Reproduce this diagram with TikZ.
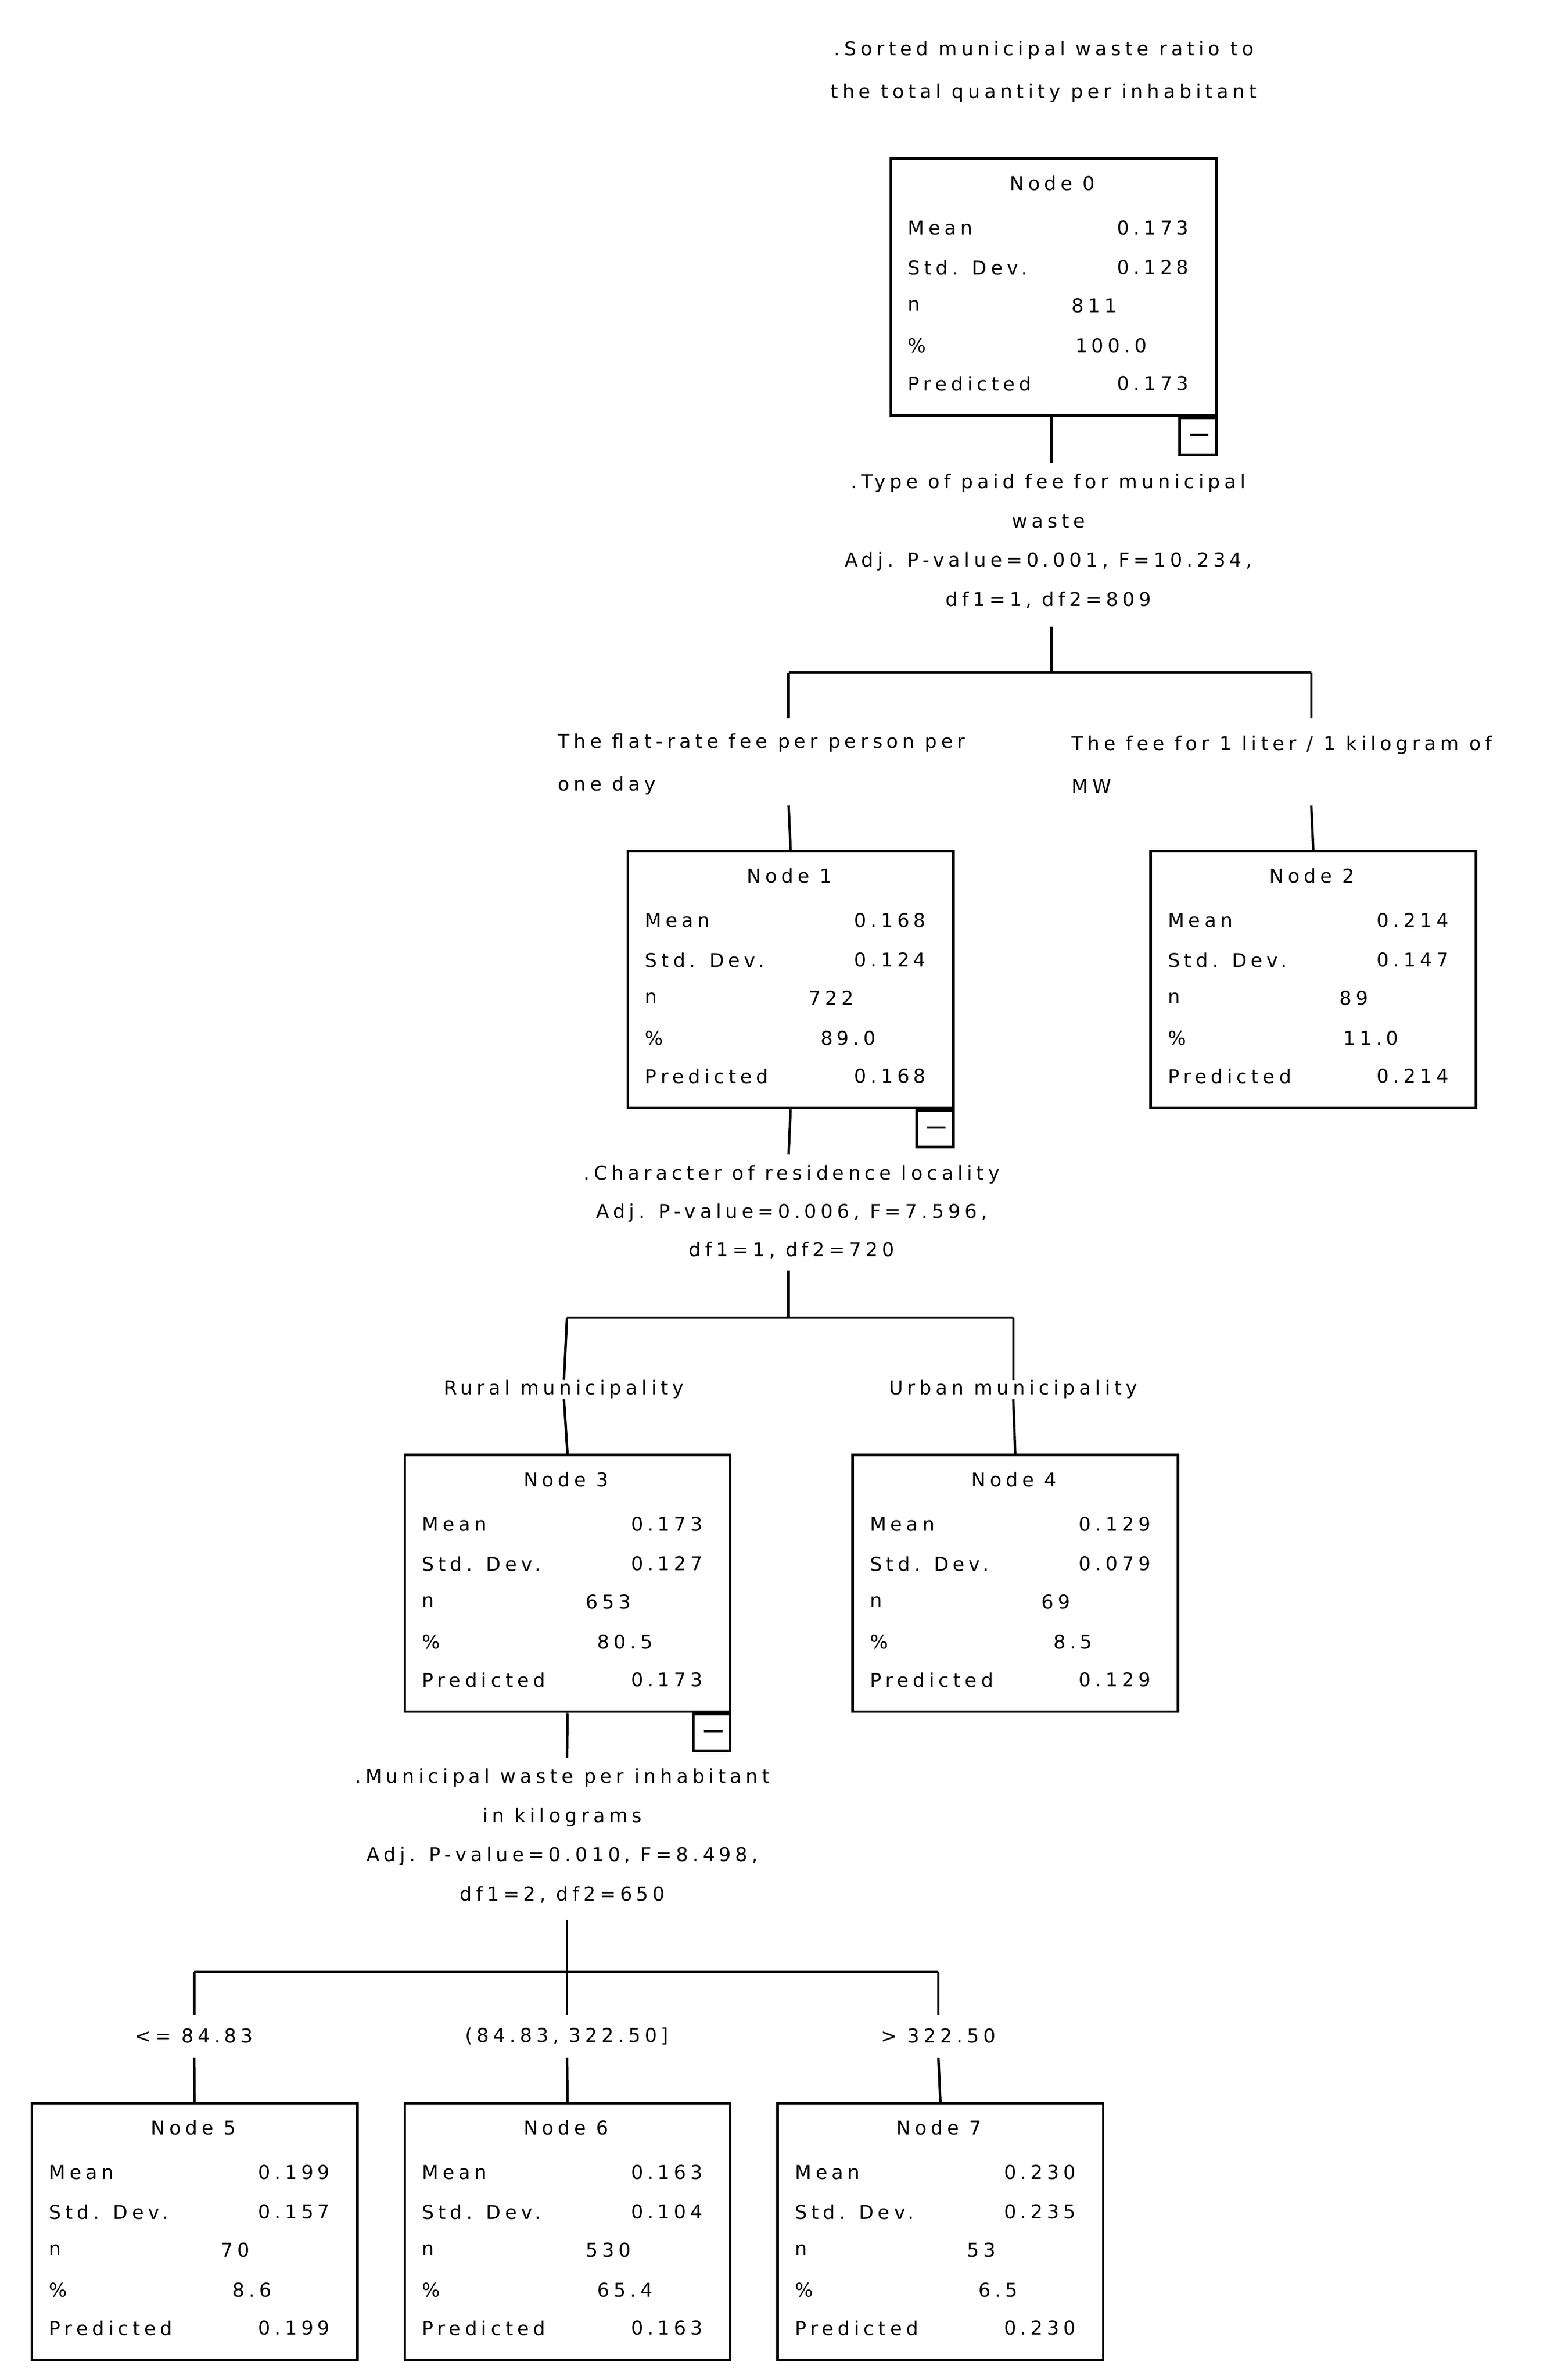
\documentclass[tikz,border=0pt]{standalone}
\usepackage{fontspec}
\setmainfont{DejaVu Sans}[LetterSpace=22]
\begin{document}
\begin{tikzpicture}[x=1pt,y=-1pt,
  box/.style={draw,line width=1.6pt,minimum width=213pt,minimum height=168pt,anchor=north west,inner sep=0},
  mbox/.style={draw,line width=1.6pt,minimum width=24pt,minimum height=24pt,anchor=north east,inner sep=0},
  t/.style={font=\fontsize{12.5}{14}\selectfont,inner sep=0},
  ln/.style={line width=1.6pt}]
\useasboundingbox (0,0) rectangle (1024,1557);
\newcommand\tnode[9]{%
  \node[box] (#1) at (#2,#3) {};
  \node[t,anchor=center] (#1t) at ([xshift=106.5pt,yshift=-17pt]#1.north west) {#4};
  \node[t,anchor=west] (#1a) at ([xshift=12pt,yshift=-46pt]#1.north west) {Mean};
  \node[t,anchor=east] (#1b) at ([xshift=196pt,yshift=-46pt]#1.north west) {#5};
  \node[t,anchor=west] (#1c) at ([xshift=12pt,yshift=-72pt]#1.north west) {Std. Dev.};
  \node[t,anchor=east] (#1d) at ([xshift=196pt,yshift=-72pt]#1.north west) {#6};
  \node[t,anchor=west] (#1e) at ([xshift=12pt,yshift=-97pt]#1.north west) {n};
  \node[t,anchor=center] (#1f) at ([xshift=134pt,yshift=-97pt]#1.north west) {#7};
  \node[t,anchor=west] (#1g) at ([xshift=12pt,yshift=-123pt]#1.north west) {\%};
  \node[t,anchor=center] (#1h) at ([xshift=145pt,yshift=-123pt]#1.north west) {#8};
  \node[t,anchor=west] (#1i) at ([xshift=12pt,yshift=-148pt]#1.north west) {Predicted};
  \node[t,anchor=east] (#1j) at ([xshift=196pt,yshift=-148pt]#1.north west) {#9};
}
\newcommand\minusbox[1]{%
  \node[mbox,anchor=north east] (#1m) at (#1.south east) {};
  \draw[line width=1.6pt] ([xshift=-18pt,yshift=-12pt]#1.south east) -- ([xshift=-6pt,yshift=-12pt]#1.south east);}
% title
\node[t,align=center,font=\fontsize{12.5}{28}\selectfont] (title) at (683,47) {.Sorted municipal waste ratio to\\the total quantity per inhabitant};
\tnode{n0}{582}{103}{Node 0}{0.173}{0.128}{811}{100.0}{0.173}
\minusbox{n0}
\node[t,align=center,font=\fontsize{12.5}{25.7}\selectfont] (s0) at (686,354) {.Type of paid fee for municipal\\waste\\Adj. P-value=0.001, F=10.234,\\df1=1, df2=809};
\coordinate (j0) at (688,440);
\coordinate (j0l) at (516,440);
\coordinate (j0r) at (858,440);
\draw[ln] (688,272) -- (688,303);
\draw[ln] (688,410) -- (j0);
\draw[ln] (j0l) -- (j0r);
\node[t,anchor=west,align=left,font=\fontsize{12.5}{28}\selectfont] (l1) at (365,500) {The flat-rate fee per person per\\one day};
\node[t,anchor=west,align=left,font=\fontsize{12.5}{28}\selectfont] (l2) at (701,500) {The fee for 1 liter / 1 kilogram of\\MW};
\tnode{n1}{410}{556}{Node 1}{0.168}{0.124}{722}{89.0}{0.168}
\minusbox{n1}
\tnode{n2}{752}{556}{Node 2}{0.214}{0.147}{89}{11.0}{0.214}
\draw[ln] (j0l) -- (516,470); \draw[ln] (516,527) -- (n1.north);
\draw[ln] (j0r) -- (858,470); \draw[ln] (858,527) -- (n2.north);
\node[t,align=center,font=\fontsize{12.5}{25}\selectfont] (s1) at (518,793) {.Character of residence locality\\Adj. P-value=0.006, F=7.596,\\df1=1, df2=720};
\coordinate (j1) at (516,862);
\coordinate (j1l) at (371,862);
\coordinate (j1r) at (663,862);
\draw[ln] (n1.south) -- (516,755);
\draw[ln] (516,831) -- (j1);
\draw[ln] (j1l) -- (j1r);
\node[t] (l3) at (369,909) {Rural municipality};
\node[t] (l4) at (663,909) {Urban municipality};
\tnode{n3}{264}{951}{Node 3}{0.173}{0.127}{653}{80.5}{0.173}
\minusbox{n3}
\tnode{n4}{557}{951}{Node 4}{0.129}{0.079}{69}{8.5}{0.129}
\draw[ln] (j1l) -- (l3.north); \draw[ln] (l3.south) -- (n3.north);
\draw[ln] (j1r) -- (l4.north); \draw[ln] (l4.south) -- (n4.north);
\node[t,align=center,font=\fontsize{12.5}{25.7}\selectfont] (s3) at (368,1201) {.Municipal waste per inhabitant\\in kilograms\\Adj. P-value=0.010, F=8.498,\\df1=2, df2=650};
\coordinate (j3) at (371,1290);
\coordinate (j3l) at (127,1290);
\coordinate (j3r) at (614,1290);
\draw[ln] (n3.south) -- (371,1150);
\draw[ln] (371,1256) -- (j3);
\draw[ln] (j3l) -- (j3r);
\node[t] (l5) at (127,1332) {<= 84.83};
\node[t] (l6) at (371,1332) {(84.83, 322.50]};
\node[t] (l7) at (614,1332) {> 322.50};
\tnode{n5}{20}{1375}{Node 5}{0.199}{0.157}{70}{8.6}{0.199}
\tnode{n6}{264}{1375}{Node 6}{0.163}{0.104}{530}{65.4}{0.163}
\tnode{n7}{508}{1375}{Node 7}{0.230}{0.235}{53}{6.5}{0.230}
\draw[ln] (j3l) -- (127,1318); \draw[ln] (127,1346) -- (n5.north);
\draw[ln] (j3) -- (371,1318); \draw[ln] (371,1346) -- (n6.north);
\draw[ln] (j3r) -- (614,1318); \draw[ln] (614,1346) -- (n7.north);
\end{tikzpicture}
\end{document}
